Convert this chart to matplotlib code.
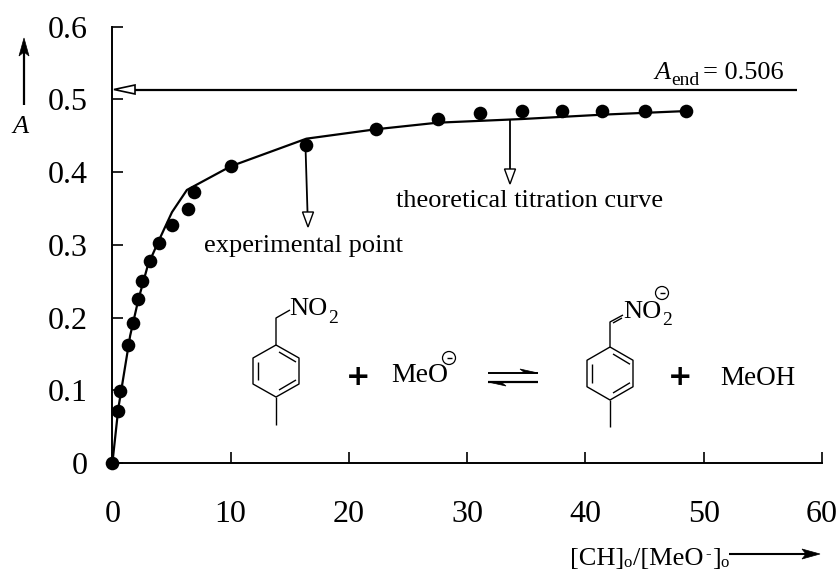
import matplotlib
matplotlib.use("Agg")
import matplotlib.pyplot as plt
from matplotlib.patches import Polygon, Circle

plt.rcParams['font.family'] = ['Liberation Serif', 'DejaVu Serif']

exp_x = [0, 0.5, 0.65, 1.3, 1.7, 2.2, 2.5, 3.2, 3.9, 5.04, 6.4, 6.9, 10, 16.4, 22.3, 27.5, 31.1, 34.6, 38, 41.4, 45, 48.5]
exp_y = [0, 0.0715, 0.099, 0.162, 0.193, 0.226, 0.25, 0.278, 0.303, 0.327, 0.349, 0.372, 0.408, 0.437, 0.459, 0.473, 0.481, 0.484, 0.484, 0.484, 0.484, 0.484]
fit_x = [0, 0.5, 1.0, 1.5, 2.2, 3.0, 3.9, 5.04, 6.3, 10, 16.4, 22.3, 27.5, 34.6, 41.4, 48.5]
fit_y = [0, 0.075, 0.125, 0.175, 0.225, 0.272, 0.305, 0.345, 0.3755, 0.408, 0.446, 0.459, 0.468, 0.473, 0.479, 0.484]
x_ticks = [0, 10, 20, 30, 40, 50, 60]
y_ticks = [0, 0.1, 0.2, 0.3, 0.4, 0.5, 0.6]
y_labels = ['0', '0.1', '0.2', '0.3', '0.4', '0.5', '0.6']

W, H = 840, 570
fig = plt.figure(figsize=(W/100, H/100), dpi=100)
L, R, T, B = 112.4, 822, 26.7, 463
ax = fig.add_axes([L/W, 1-B/H, (R-L)/W, (B-T)/H])
ax.set_xlim(0, 60)
ax.set_ylim(0, 0.6)
for s in ['top', 'right']:
    ax.spines[s].set_visible(False)
for s in ['left', 'bottom']:
    ax.spines[s].set_linewidth(1.4)
ax.set_xticks(x_ticks)
ax.set_xticklabels([str(v) for v in x_ticks], fontsize=23)
ax.set_yticks(y_ticks)
ax.set_yticklabels(y_labels, fontsize=23)
ax.tick_params(direction='in', length=8, width=1.2, pad=18)
ax.tick_params(axis='x', pad=27)
ax.plot(fit_x, fit_y, color='k', lw=1.6, clip_on=False, zorder=3)
ax.plot(exp_x, exp_y, 'o', color='k', ms=9.8, mew=0, clip_on=False, zorder=4)

# overlay in pixel coordinates for the annotations
ov = fig.add_axes([0, 0, 1, 1], facecolor='none')
ov.set_xlim(0, W)
ov.set_ylim(H, 0)
ov.axis('off')

def line(xs, ys, lw=1.3):
    ov.plot(xs, ys, color='k', lw=lw, solid_capstyle='butt')

def txt(x, y, s, size=19, **kw):
    ov.text(x, y, s, fontsize=size, ha='left', va='baseline', **kw)

def ring(cx, top, bot, hw):
    q = (bot-top)/4
    pts = [(cx, top), (cx+hw, top+q), (cx+hw, bot-q), (cx, bot), (cx-hw, bot-q), (cx-hw, top+q), (cx, top)]
    line(*zip(*pts), lw=1.0)
    d = 5
    line([cx+3, cx+hw-3], [top+7, top+q+4], lw=1.0)
    line([cx+3, cx+hw-3], [bot-7, bot-q-4], lw=1.0)
    line([cx-hw+d, cx-hw+d], [top+q+4, bot-q-4], lw=1.0)

def minus_circle(cx, cy, r=6.5):
    ov.add_patch(Circle((cx, cy), r, fc='white', ec='k', lw=0.9, zorder=5))
    line([cx-2.5, cx+2.5], [cy, cy], lw=1.0)
    ov.lines[-1].set_zorder(6)

# open-headed arrows
line([135, 797], [89.5, 89.5], lw=1.6)
ov.add_patch(Polygon([(114, 89.5), (135, 85), (135, 94)], closed=True, fc='white', ec='k', lw=1.2, zorder=5))
line([305.5, 307.5], [147, 212], lw=1.3)
ov.add_patch(Polygon([(308, 227), (302.5, 212), (313.5, 212)], closed=True, fc='white', ec='k', lw=1.0, zorder=5))
line([510, 510], [120, 169], lw=1.3)
ov.add_patch(Polygon([(510, 184), (504.5, 169), (515.5, 169)], closed=True, fc='white', ec='k', lw=1.0, zorder=5))

# y-axis direction arrow
line([24, 24], [105, 50], lw=1.6)
ov.add_patch(Polygon([(24, 38), (19, 56), (24, 52), (29, 56)], closed=True, fc='k', ec='k', lw=0.5))
txt(12, 133, 'A', size=19, style='italic')

# x-axis label and arrow
txt(570, 565, '[CH]', size=19)
txt(623, 567, 'o', size=12)
txt(633, 565, '/[MeO', size=19)
txt(705, 558, '-', size=12)
txt(712, 565, ']', size=19)
txt(720, 567, 'o', size=12)
line([729, 810], [554, 554], lw=1.5)
ov.add_patch(Polygon([(820, 554), (802, 549), (806, 554), (802, 559)], closed=True, fc='k', ec='k', lw=0.5))

# annotation text
txt(204, 252, 'experimental point', size=19)
txt(396, 207, 'theoretical titration curve', size=19)
txt(654, 79, 'A', size=19, style='italic')
txt(671, 85, 'end', size=14)
txt(703, 79, '= 0.506', size=19)

# reactant
ring(276, 345, 397, 23)
line([276, 276], [397, 425], lw=1.0)
line([276, 276, 290], [345, 318, 310], lw=1.0)
txt(289, 315, 'NO', size=19)
txt(328, 323, '2', size=14)
txt(346, 385, '+', size=21, weight='bold', family='DejaVu Sans')
txt(391, 382, 'MeO', size=20)
minus_circle(449, 358)

# equilibrium arrows
line([488, 538], [373, 373], lw=1.4)
line([488, 538], [382, 382], lw=1.6)
ov.add_patch(Polygon([(538, 373), (520, 369), (525, 373)], closed=True, fc='k', ec='k', lw=0.5))
ov.add_patch(Polygon([(488, 382), (506, 386), (501, 382)], closed=True, fc='k', ec='k', lw=0.5))

# product
ring(610, 347, 400, 23)
line([610, 610], [400, 427], lw=1.0)
line([610, 610, 623], [347, 322, 315], lw=1.0)
line([613, 622], [323, 318], lw=1.0)
txt(623, 318, 'NO', size=19)
txt(662, 325, '2', size=14)
minus_circle(662, 293)
txt(668, 385, '+', size=21, weight='bold', family='DejaVu Sans')
txt(720, 385, 'MeOH', size=19.5)

fig.savefig('out.png', dpi=100)
